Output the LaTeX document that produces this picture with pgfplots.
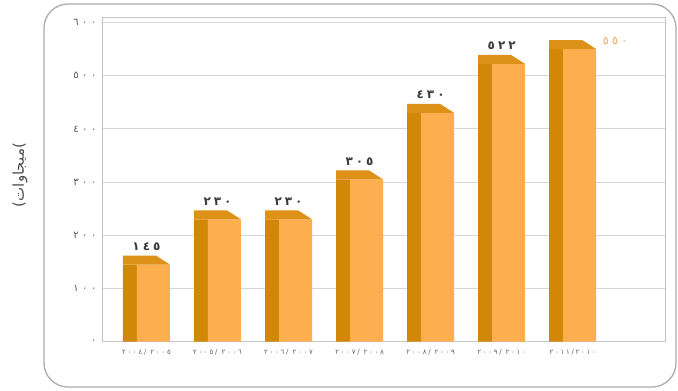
\documentclass[border=0pt]{standalone}
\usepackage{fontspec}
\usepackage{pgfplots}
\usepackage{pgfplotstable}
\pgfplotsset{compat=1.18}
\setmainfont{DejaVu Sans}
\newfontfamily\arabicfont[Script=Arabic]{DejaVu Sans}
\newfontfamily\digitfont{DejaVu Sans}
\TeXXeTstate=1

\definecolor{frontc}{HTML}{FDAF4F}
\definecolor{sidec}{HTML}{D38709}
\definecolor{topc}{HTML}{DE9118}
\definecolor{gridc}{HTML}{D6D6D6}
\definecolor{framec}{HTML}{C4C4C4}
\definecolor{labc}{HTML}{3A3A3A}
\definecolor{lastc}{HTML}{EBA45A}

% write a number with Arabic-Indic digits
\def\ardig#1{\ifcase#1 ٠\or ١\or ٢\or ٣\or ٤\or ٥\or ٦\or ٧\or ٨\or ٩\fi}
\def\arnum#1{\arnumloop#1\relax}
\def\arnumloop#1{\ifx#1\relax\else\ardig{#1}\expandafter\arnumloop\fi}
\def\armeta{\expandafter\arnum\expandafter{\pgfplotspointmeta}}

% top face of a box bar, drawn at the top centre of its front face
\pgfdeclareplotmark{boxtop}{%
  \pgfpathmoveto{\pgfpoint{-30.5pt}{0pt}}%
  \pgfpathlineto{\pgfpoint{16.5pt}{0pt}}%
  \pgfpathlineto{\pgfpoint{2.5pt}{9pt}}%
  \pgfpathlineto{\pgfpoint{-30.5pt}{9pt}}%
  \pgfpathclose
  \pgfusepathqfill}

% installed capacity per fiscal year (MW)
\pgfplotstableread{
x v
0 145
1 230
2 230
3 305
4 430
5 522
6 550
}\capall
\pgfplotstableread{
x v
0 145
1 230
2 230
3 305
4 430
5 522
}\capA
\pgfplotstableread{
x v
6 550
}\capB

\begin{document}
\begin{tikzpicture}
\path (0,0) rectangle (678pt,391pt);
\draw[gray!65, line width=1.3pt, rounded corners=24pt] (44pt,4pt) rectangle (676pt,387pt);
\begin{axis}[
  at={(102pt,49.3pt)}, anchor=south west,
  scale only axis, width=563pt, y=0.532pt,
  xmin=-0.724, xmax=7.2, ymin=0, ymax=610,
  axis line style={draw=framec, line width=0.8pt},
  tick style={draw=none},
  ymajorgrids, grid style={draw=gridc, line width=0.8pt},
  ytick={0,100,200,300,400,500,600},
  yticklabels={\arnum{0},\arnum{100},\arnum{200},\arnum{300},\arnum{400},\arnum{500},\arnum{600}},
  yticklabel style={font=\digitfont\fontsize{10}{11}\selectfont\addfontfeature{LetterSpace=35}, text=labc!85, xshift=-2pt},
  xtick={0,1,2,3,4,5,6},
  xticklabels={\arnum{2004}/ \arnum{2005},\arnum{2005}/ \arnum{2006},\arnum{2006}/ \arnum{2007},\arnum{2007}/ \arnum{2008},\arnum{2008}/ \arnum{2009},\arnum{2009}/ \arnum{2010},\arnum{2011}/\arnum{2010}},
  xticklabel style={font=\digitfont\fontsize{7}{8}\selectfont\addfontfeature{LetterSpace=25}, text=labc!80, xshift=-7pt, yshift=-4pt},
  clip=false,
]
% side faces
\addplot[ybar, bar width=14pt, bar shift=-23.5pt, fill=sidec, draw=none] table[x=x, y=v] {\capall};
% front faces
\addplot[ybar, bar width=33pt, bar shift=0pt, fill=frontc, draw=none] table[x=x, y=v] {\capall};
% top faces
\addplot[only marks, mark=boxtop, mark options={fill=topc, draw=none}] table[x=x, y=v] {\capall};
% value labels
\addplot[draw=none, mark=none, point meta=explicit symbolic,
  nodes near coords={\armeta},
  every node near coord/.style={anchor=south, inner sep=0pt, xshift=-7pt, yshift=14pt,
    font=\digitfont\bfseries\fontsize{12}{13}\selectfont\addfontfeature{LetterSpace=25}, text=labc}]
  table[x=x, y=v, meta=v] {\capA};
\addplot[draw=none, mark=none, point meta=explicit symbolic,
  nodes near coords={\armeta},
  every node near coord/.style={anchor=west, inner sep=0pt, xshift=23pt, yshift=8pt,
    font=\digitfont\fontsize{11}{12}\selectfont\addfontfeature{LetterSpace=30}, text=lastc}]
  table[x=x, y=v, meta=v] {\capB};
\end{axis}
\node[rotate=90, text=labc!90, font=\fontsize{15}{17}\selectfont] at (20pt,216pt) {(\arabicfont\beginR ميجاوات\endR)};
\end{tikzpicture}
\end{document}
